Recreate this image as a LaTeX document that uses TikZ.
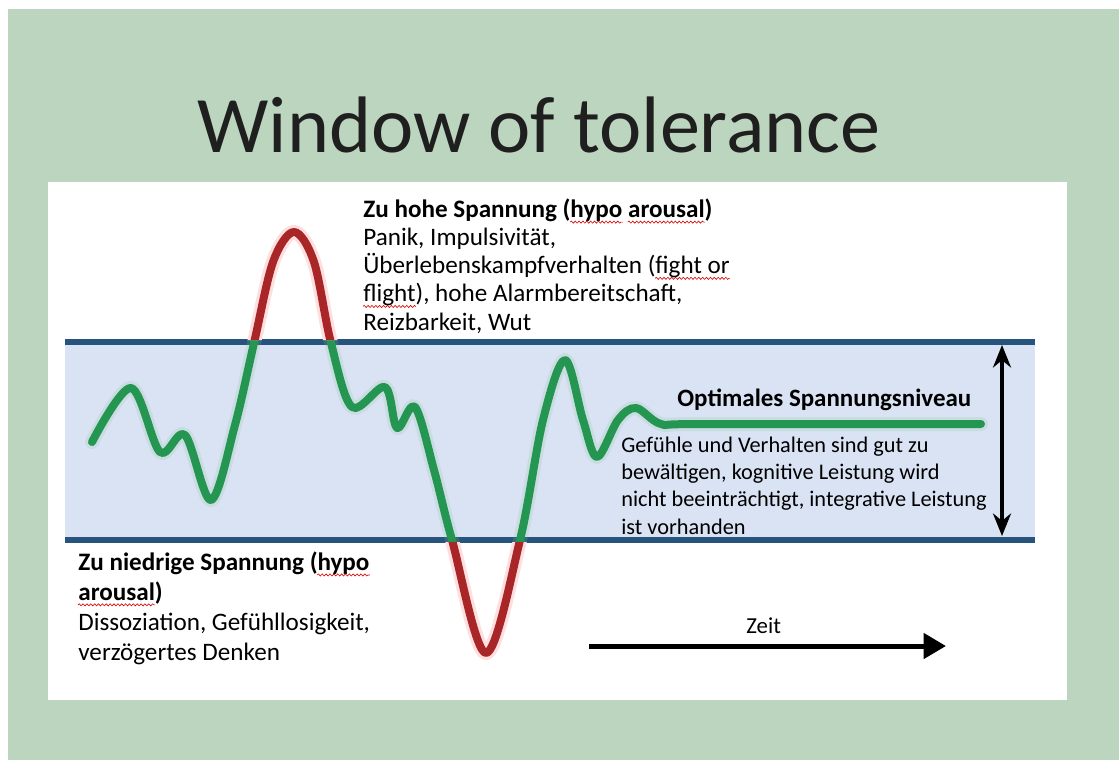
\documentclass[tikz,border=0pt]{standalone}
\usepackage{fontspec}
\setmainfont{Carlito}
\usetikzlibrary{arrows.meta,positioning,decorations.pathmorphing}

\definecolor{slide}{RGB}{188,213,190}
\definecolor{band}{RGB}{218,227,243}
\definecolor{bandline}{RGB}{38,84,125}
\definecolor{calm}{RGB}{36,150,82}
\definecolor{alarm}{RGB}{168,38,40}

% red wavy underline for the flagged words
\newcommand\spell[1]{\tikz[baseline=(w.base)]{\node[inner sep=0pt] (w) {#1};
  \draw[overlay, red!85!black, line width=0.35pt, decorate, decoration={snake, amplitude=0.6pt, segment length=2.2pt}]
    ([yshift=-2.6pt]w.base west) -- ([yshift=-2.6pt]w.base east);}}

% the arousal curve, reused for green and red parts
\newcommand\wavepath{plot[smooth, tension=0.55] coordinates {
  (92,442) (131,388) (160,452) (185,435) (211,500) (235,425)
  (254,343) (273,262) (294,232) (314,262) (331,343) (352,407)
  (385,387) (397,428) (415,407) (434,470) (452,540) (486,653)
  (520,540) (543,420) (565,360) (583,420) (597,457) (618,420)
  (636,408) (661,424) (700,424) (981,424)}}

\begin{document}
\begin{tikzpicture}[x=0.2mm, y=-0.2mm,
  body/.style={font=\fontsize{14.3}{16}\selectfont, align=left, anchor=base west, inner sep=0pt},
  heading/.style={font=\fontsize{14.2}{16}\selectfont\bfseries, anchor=base west, inner sep=0pt},
  levelline/.style={draw=bandline, line width=1.1mm},
  glow/.style={line width=2.8mm, line cap=round, line join=round, draw opacity=0.18},
  curve/.style={line width=1.6mm, line cap=round, line join=round}]

  % slide and white panel
  \fill[white] (0,0) rectangle (1119,760);
  \fill[slide] (8,9) rectangle (1119,760);
  \fill[white] (48,182) rectangle (1067,700);

  \node[font=\fontsize{45.6}{50}\selectfont, text=black!88, anchor=base] (title) at (539,152) {Window of tolerance};

  % window of tolerance band
  \fill[band] (65,342) rectangle (1035,540);
  \coordinate (topl) at (65,342);
  \coordinate (topr) at (1035,342);
  \coordinate (botl) at (65,540);
  \coordinate (botr) at (1035,540);
  \draw[levelline] (topl) -- (topr);
  \draw[levelline] (botl) -- (botr);

  % curve: green inside the band, red outside
  \draw[glow, calm!60] \wavepath;
  \draw[curve, calm] \wavepath;
  \begin{scope}
    \clip (0,0) rectangle (1119,340) (0,542) rectangle (1119,760);
    \draw[glow, draw opacity=1, white] \wavepath;
    \draw[glow, red!70] \wavepath;
    \draw[curve, alarm] \wavepath;
  \end{scope}

  % range arrow
  \coordinate (rtop) at (1002,345);
  \coordinate (rbot) at (1002,536);
  \draw[{Stealth[length=4.5mm,width=3.6mm]}-{Stealth[length=4.5mm,width=3.6mm]}, line width=0.7mm] (rtop) -- (rbot);

  % texts (anchored at the baseline of their last line)
  \node[body] (hyper) at (363,330) {\textbf{Zu hohe Spannung (\spell{hypo} \spell{arousal})}\\
    Panik, Impulsivität,\\
    Überlebenskampfverhalten (\spell{fight or}\\
    \spell{flight}), hohe Alarmbereitschaft,\\
    Reizbarkeit, Wut};
  \node[heading] (optimal) at (677,406) {Optimales Spannungsniveau};
  \node[body, font=\fontsize{12.7}{15.4}\selectfont] (optdesc) at (621,534) {Gefühle und Verhalten sind gut zu\\
    bewältigen, kognitive Leistung wird\\
    nicht beeinträchtigt, integrative Leistung\\
    ist vorhanden};
  \node[body, font=\fontsize{14.3}{17}\selectfont] (hypo) at (78,660) {\textbf{Zu niedrige Spannung (\spell{hypo}}\\
    \textbf{\spell{arousal})}\\
    Dissoziation, Gefühllosigkeit,\\
    verzögertes Denken};

  % time axis
  \coordinate (tstart) at (589,646);
  \coordinate (tend) at (946,646);
  \draw[-{Triangle[length=4.5mm,width=5mm]}, line width=1mm] (tstart) -- (tend);
  \node[body, font=\fontsize{13}{16}\selectfont] (zeit) at (746,633) {Zeit};
\end{tikzpicture}
\end{document}
